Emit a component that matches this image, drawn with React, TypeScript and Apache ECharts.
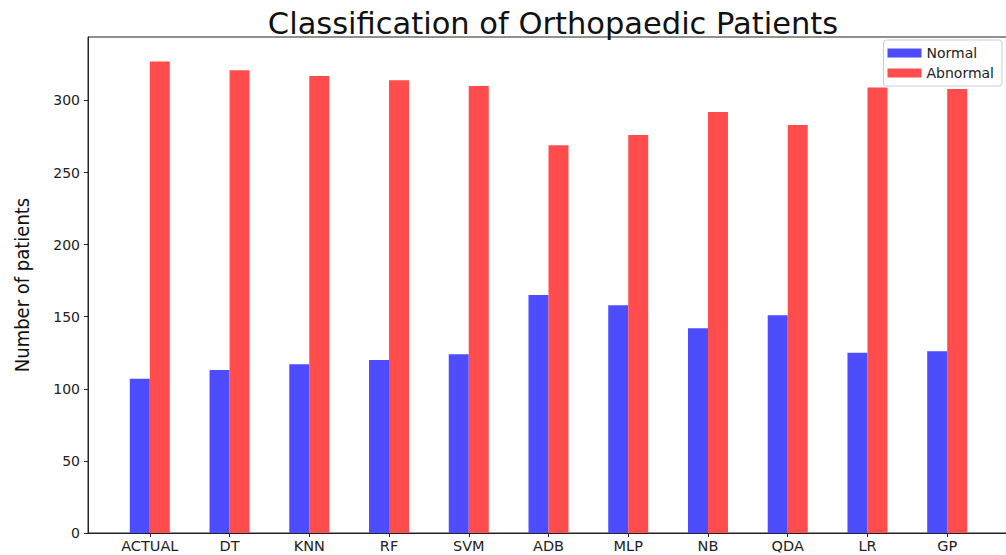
import React, { useEffect, useRef } from "react";
import * as echarts from "echarts";

const categories = ["ACTUAL", "DT", "KNN", "RF", "SVM", "ADB", "MLP", "NB", "QDA", "LR", "GP"];
const normalValues = [107, 113, 117, 120, 124, 165, 158, 142, 151, 125, 126];
const abnormalValues = [327, 321, 317, 314, 310, 269, 276, 292, 283, 309, 308];
const yTicks = [0, 50, 100, 150, 200, 250, 300];
const xTicks = categories.map((_, i) => i);

export default function App() {
  const ref = useRef<HTMLDivElement>(null);
  useEffect(() => {
    document.body.style.margin = "0";
    document.documentElement.style.overflow = "hidden";
    document.body.style.overflow = "hidden";
    const chart = echarts.init(ref.current!, null, { renderer: "svg" });
    const font = "DejaVu Sans";
    chart.setOption({
      animation: false,
      backgroundColor: "#ffffff",
      title: {
        text: "Classification of Orthopaedic Patients",
        left: 548,
        textAlign: "center",
        top: 3,
        textStyle: { fontFamily: font, fontSize: 30.5, fontWeight: "normal", color: "#111" },
      },
      legend: {
        orient: "vertical",
        right: 10,
        top: 40,
        itemWidth: 34,
        itemHeight: 9,
        itemGap: 6,
        padding: [6, 8, 6, 4],
        borderColor: "#cccccc",
        borderWidth: 1,
        borderRadius: 3,
        backgroundColor: "#ffffff",
        textStyle: { fontFamily: font, fontSize: 14, color: "#222" },
        data: [
          { name: "Normal", icon: "rect" },
          { name: "Abnormal", icon: "rect" },
        ],
      },
      grid: {
        left: 88,
        top: 37,
        width: 921,
        bottom: 22,
        show: true,
        borderColor: "#222",
        borderWidth: 1,
        backgroundColor: "transparent",
      },
      xAxis: {
        type: "value",
        min: -0.775,
        max: 10.775,
        axisLine: { show: true, onZero: false, lineStyle: { color: "#222", width: 1 } },
        axisTick: { show: true, length: 4, customValues: xTicks, lineStyle: { color: "#222" } },
        axisLabel: {
          customValues: xTicks,
          formatter: (v: number) => categories[Math.round(v)] ?? "",
          fontFamily: font,
          fontSize: 14.5,
          color: "#222",
          margin: 5,
        },
        splitLine: { show: false },
      },
      yAxis: {
        type: "value",
        min: 0,
        max: 344,
        name: "Number of patients",
        nameLocation: "middle",
        nameGap: 56,
        nameTextStyle: { fontFamily: "DejaVu Sans Condensed, Liberation Sans Narrow, DejaVu Sans", fontSize: 20, color: "#111" },
        axisLine: { show: true, onZero: false, lineStyle: { color: "#222", width: 1 } },
        axisTick: { show: true, length: 4, customValues: yTicks, lineStyle: { color: "#222" } },
        axisLabel: { customValues: yTicks, fontFamily: font, fontSize: 14, color: "#222", margin: 8 },
        splitLine: { show: false },
      },
      series: [
        {
          name: "Normal",
          type: "bar",
          barWidth: 20,
          barGap: "0%",
          itemStyle: { color: "#4d4dff" },
          data: normalValues.map((v, i) => [i, v]),
        },
        {
          name: "Abnormal",
          type: "bar",
          barWidth: 20,
          barGap: "0%",
          itemStyle: { color: "#ff4d4d" },
          data: abnormalValues.map((v, i) => [i, v]),
        },
      ],
    });
    return () => chart.dispose();
  }, []);
  return <div ref={ref} style={{ width: 1012, height: 555, position: "absolute", left: 0, top: 0 }} />;
}
